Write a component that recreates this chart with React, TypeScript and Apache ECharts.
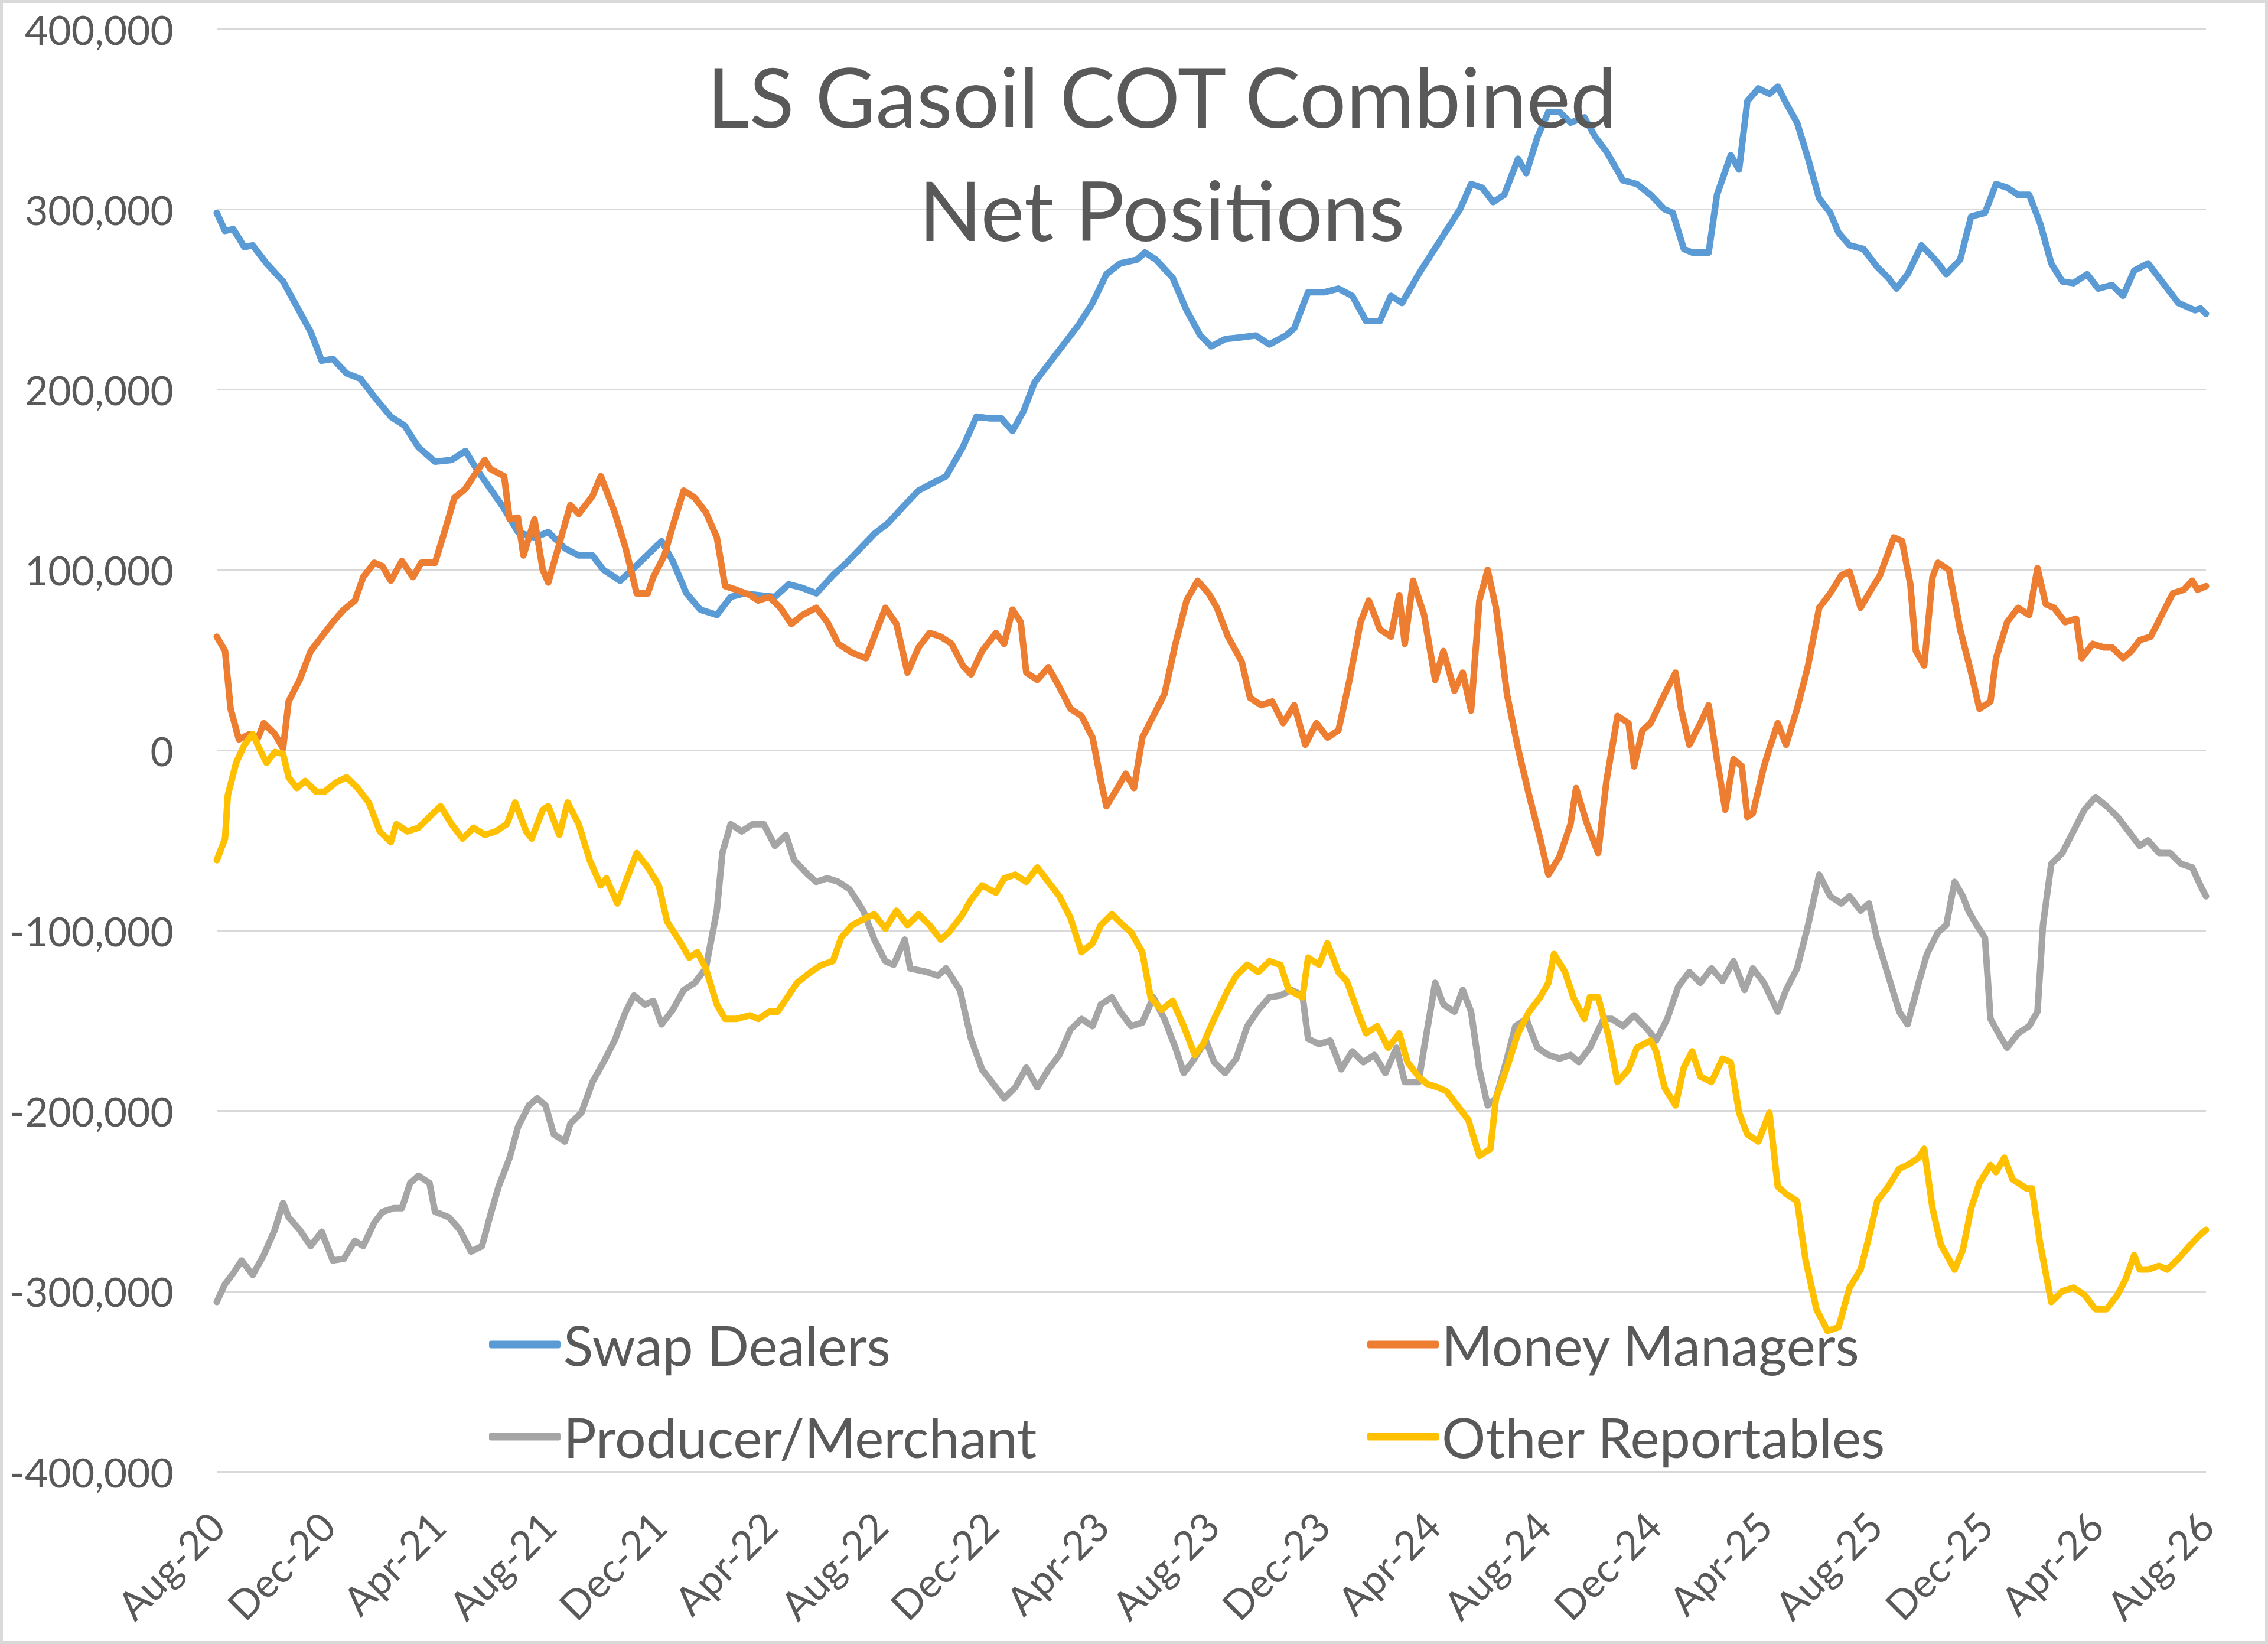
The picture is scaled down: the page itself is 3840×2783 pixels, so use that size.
import { useEffect, useRef } from "react";
import * as echarts from "echarts";

// x = months since Aug-20, y = net position in thousands of contracts
const X_TICK_LABELS = [
  "Aug-20", "Dec-20", "Apr-21", "Aug-21", "Dec-21", "Apr-22", "Aug-22",
  "Dec-22", "Apr-23", "Aug-23", "Dec-23", "Apr-24", "Aug-24", "Dec-24",
  "Apr-25", "Aug-25", "Dec-25", "Apr-26", "Aug-26",
];

const SERIES_NAMES = ["Swap Dealers", "Money Managers", "Producer/Merchant", "Other Reportables"];

const SWAP_DEALERS: [number, number][] = [
  [0, 298], [0.3, 288], [0.6, 289], [1.0, 279], [1.3, 280], [1.8, 270], [2.4, 260], [2.9, 246],
  [3.4, 232], [3.8, 216], [4.2, 217], [4.7, 209], [5.2, 206], [5.7, 196], [6.3, 185], [6.8, 180],
  [7.3, 168], [7.9, 160], [8.5, 161], [9.0, 166], [9.4, 156], [9.9, 145], [10.4, 134], [10.9, 121],
  [11.5, 118], [12.0, 121], [12.6, 112], [13.1, 108], [13.6, 108], [14.0, 100], [14.6, 94], [15.1, 101],
  [15.7, 110], [16.1, 116], [16.5, 105], [17.0, 87], [17.5, 78], [18.1, 75], [18.6, 85], [19.1, 87],
  [19.6, 86], [20.2, 85], [20.7, 92], [21.2, 90], [21.7, 87], [22.3, 97], [22.8, 104], [23.3, 112],
  [23.8, 120], [24.3, 126], [24.9, 136], [25.4, 144], [25.9, 148], [26.4, 152], [27.0, 168], [27.5, 185],
  [28.0, 184], [28.4, 184], [28.8, 177], [29.2, 188], [29.6, 204], [30.1, 214], [30.6, 224], [31.2, 236],
  [31.7, 248], [32.2, 264], [32.7, 270], [33.3, 272], [33.6, 276], [34.0, 272], [34.6, 262], [35.1, 244],
  [35.6, 230], [36.0, 224], [36.5, 228], [37.1, 229], [37.6, 230], [38.1, 225], [38.7, 230], [39.0, 234],
  [39.5, 254], [40.1, 254], [40.6, 256], [41.1, 252], [41.6, 238], [42.1, 238], [42.5, 252], [42.9, 248],
  [43.5, 264], [44.0, 276], [44.5, 288], [45.0, 300], [45.4, 314], [45.8, 312], [46.2, 304], [46.6, 308],
  [47.1, 328], [47.4, 320], [47.8, 340], [48.2, 354], [48.6, 354], [49.0, 348], [49.5, 351], [49.9, 340],
  [50.3, 332], [50.9, 316], [51.4, 314], [51.9, 308], [52.4, 300], [52.7, 298], [53.1, 278], [53.4, 276],
  [54.0, 276], [54.3, 308], [54.8, 330], [55.1, 322], [55.4, 360], [55.8, 367], [56.2, 364], [56.5, 368],
  [56.8, 359], [57.2, 348], [57.6, 328], [58.0, 306], [58.4, 298], [58.7, 287], [59.1, 280], [59.6, 278],
  [60.1, 268], [60.5, 262], [60.8, 256], [61.2, 264], [61.7, 280], [62.2, 272], [62.6, 264], [63.1, 272],
  [63.5, 296], [64.0, 298], [64.4, 314], [64.8, 312], [65.2, 308], [65.6, 308], [66.0, 292], [66.4, 270],
  [66.8, 260], [67.2, 259], [67.7, 264], [68.1, 256], [68.6, 258], [69.0, 252], [69.4, 266], [69.9, 270],
  [70.5, 258], [71.0, 248], [71.6, 244], [71.8, 245], [72.0, 242],
];

const MONEY_MANAGERS: [number, number][] = [
  [0, 63], [0.3, 55], [0.5, 23], [0.8, 6], [1.2, 9], [1.5, 7], [1.7, 15], [2.1, 9], [2.4, 1],
  [2.6, 27], [3.0, 39], [3.4, 55], [3.8, 63], [4.2, 71], [4.6, 78], [5.0, 83], [5.3, 96], [5.7, 104],
  [6.0, 102], [6.3, 94], [6.7, 105], [7.1, 96], [7.4, 104], [7.9, 104], [8.3, 124], [8.6, 140],
  [9.0, 145], [9.3, 152], [9.7, 161], [9.9, 156], [10.4, 152], [10.6, 128], [10.9, 129], [11.1, 108],
  [11.5, 128], [11.8, 100], [12.0, 93], [12.5, 120], [12.8, 136], [13.1, 131], [13.6, 141], [13.9, 152],
  [14.1, 144], [14.4, 132], [14.8, 112], [15.2, 87], [15.6, 87], [15.8, 96], [16.2, 108], [16.5, 124],
  [16.9, 144], [17.3, 140], [17.7, 132], [18.1, 118], [18.4, 91], [18.8, 89], [19.3, 86], [19.6, 83],
  [20.0, 85], [20.4, 79], [20.8, 70], [21.2, 75], [21.7, 79], [22.1, 71], [22.5, 59], [23.0, 54],
  [23.5, 51], [23.8, 63], [24.2, 79], [24.6, 70], [25.0, 43], [25.4, 57], [25.8, 65], [26.2, 63],
  [26.6, 59], [27.0, 47], [27.3, 42], [27.7, 55], [28.2, 65], [28.5, 59], [28.8, 78], [29.1, 71],
  [29.3, 43], [29.7, 39], [30.1, 46], [30.5, 35], [30.9, 23], [31.3, 19], [31.7, 7], [32.0, -17],
  [32.2, -31], [32.6, -21], [32.9, -13], [33.2, -21], [33.5, 7], [33.9, 19], [34.3, 31], [34.7, 59],
  [35.1, 83], [35.5, 94], [35.9, 87], [36.2, 79], [36.6, 63], [37.1, 49], [37.4, 29], [37.8, 25],
  [38.2, 27], [38.6, 15], [39.0, 25], [39.4, 3], [39.8, 15], [40.2, 7], [40.6, 11], [41.0, 39],
  [41.4, 71], [41.7, 83], [42.1, 67], [42.5, 63], [42.8, 86], [43.0, 59], [43.3, 94], [43.7, 75],
  [44.1, 39], [44.4, 55], [44.8, 33], [45.1, 43], [45.4, 22], [45.7, 83], [46.0, 100], [46.3, 79],
  [46.7, 31], [47.1, 1], [47.5, -25], [47.9, -49], [48.2, -69], [48.6, -59], [49.0, -41], [49.2, -21],
  [49.6, -41], [50.0, -57], [50.3, -17], [50.7, 19], [51.1, 15], [51.3, -9], [51.6, 11], [51.9, 15],
  [52.4, 31], [52.8, 43], [53.0, 23], [53.3, 3], [53.7, 15], [54.0, 25], [54.3, -5], [54.6, -33],
  [54.9, -5], [55.2, -9], [55.4, -37], [55.6, -35], [56.0, -9], [56.2, 1], [56.5, 15], [56.8, 3],
  [57.2, 23], [57.6, 47], [58.0, 79], [58.4, 87], [58.8, 97], [59.1, 99], [59.5, 79], [59.8, 87],
  [60.2, 97], [60.7, 118], [61.0, 116], [61.3, 92], [61.5, 55], [61.8, 47], [62.1, 96], [62.3, 104],
  [62.7, 100], [63.1, 67], [63.5, 43], [63.8, 23], [64.2, 27], [64.4, 51], [64.8, 71], [65.2, 79],
  [65.6, 75], [65.9, 101], [66.2, 81], [66.5, 79], [66.9, 71], [67.3, 73], [67.5, 51], [67.9, 59],
  [68.3, 57], [68.6, 57], [69.0, 51], [69.3, 55], [69.6, 61], [70.0, 63], [70.4, 75], [70.8, 87],
  [71.2, 89], [71.5, 94], [71.7, 89], [72.0, 91],
];

const PRODUCER_MERCHANT: [number, number][] = [
  [0, -306], [0.3, -296], [0.6, -290], [0.9, -283], [1.3, -291], [1.7, -280], [2.1, -266], [2.4, -251],
  [2.6, -259], [3.0, -266], [3.4, -275], [3.8, -267], [4.2, -283], [4.6, -282], [5.0, -272], [5.3, -275],
  [5.7, -262], [6.0, -256], [6.4, -254], [6.7, -254], [7.0, -240], [7.3, -236], [7.7, -240], [7.9, -256],
  [8.4, -259], [8.8, -266], [9.2, -278], [9.6, -275], [9.9, -258], [10.2, -242], [10.6, -226], [10.9, -209],
  [11.3, -197], [11.6, -193], [11.9, -197], [12.2, -213], [12.6, -217], [12.8, -207], [13.2, -201], [13.6, -184],
  [14.0, -173], [14.4, -161], [14.8, -145], [15.1, -136], [15.5, -141], [15.8, -139], [16.1, -152], [16.5, -144],
  [16.9, -133], [17.3, -129], [17.7, -121], [18.1, -89], [18.3, -57], [18.6, -41], [19.0, -45], [19.4, -41],
  [19.8, -41], [20.2, -53], [20.6, -47], [20.9, -61], [21.4, -69], [21.7, -73], [22.1, -71], [22.5, -73],
  [22.9, -77], [23.4, -89], [23.8, -105], [24.2, -117], [24.5, -119], [24.9, -105], [25.1, -121], [25.7, -123],
  [26.1, -125], [26.4, -121], [26.9, -133], [27.3, -160], [27.7, -177], [28.1, -185], [28.5, -193], [28.9, -187],
  [29.3, -176], [29.7, -187], [30.1, -177], [30.5, -169], [30.9, -155], [31.3, -149], [31.7, -153], [32.0, -141],
  [32.4, -137], [32.7, -145], [33.1, -153], [33.5, -151], [33.9, -137], [34.3, -149], [34.7, -165], [35.0, -179],
  [35.3, -173], [35.8, -161], [36.1, -173], [36.5, -179], [36.9, -171], [37.3, -153], [37.7, -144], [38.1, -137],
  [38.5, -136], [38.9, -133], [39.3, -136], [39.5, -160], [39.9, -163], [40.3, -161], [40.7, -177], [41.1, -167],
  [41.5, -173], [41.9, -169], [42.3, -179], [42.7, -165], [43.0, -184], [43.5, -184], [43.7, -165], [44.1, -129],
  [44.4, -141], [44.8, -145], [45.1, -133], [45.4, -145], [45.7, -177], [46.0, -197], [46.3, -193], [46.7, -171],
  [47.0, -153], [47.4, -149], [47.8, -165], [48.2, -169], [48.6, -171], [49.0, -169], [49.3, -173], [49.7, -165],
  [50.2, -149], [50.5, -149], [50.9, -153], [51.3, -147], [51.8, -155], [52.1, -161], [52.5, -149], [52.9, -131],
  [53.3, -123], [53.7, -129], [54.1, -121], [54.5, -128], [54.9, -117], [55.3, -133], [55.6, -121], [56.0, -129],
  [56.5, -145], [56.8, -133], [57.2, -121], [57.6, -97], [58.0, -69], [58.4, -81], [58.8, -85], [59.1, -81],
  [59.5, -89], [59.8, -85], [60.1, -105], [60.5, -125], [60.9, -145], [61.2, -152], [61.6, -129], [61.9, -113],
  [62.3, -101], [62.6, -97], [62.9, -73], [63.2, -81], [63.4, -89], [63.7, -97], [64.0, -104], [64.2, -149],
  [64.6, -160], [64.8, -165], [65.2, -157], [65.6, -153], [65.9, -145], [66.1, -97], [66.4, -63], [66.8, -57],
  [67.2, -45], [67.6, -33], [68.0, -26], [68.4, -31], [68.8, -37], [69.2, -45], [69.6, -53], [69.9, -50],
  [70.3, -57], [70.7, -57], [71.1, -63], [71.5, -65], [71.8, -75], [72.0, -81],
];

const OTHER_REPORTABLES: [number, number][] = [
  [0, -61], [0.3, -49], [0.4, -25], [0.7, -7], [1.0, 3], [1.3, 9], [1.6, -1], [1.8, -7], [2.1, -1],
  [2.4, -2], [2.6, -15], [2.9, -21], [3.2, -17], [3.6, -23], [3.9, -23], [4.3, -18], [4.7, -15], [5.1, -21],
  [5.5, -29], [5.9, -45], [6.3, -51], [6.5, -41], [6.9, -45], [7.3, -43], [7.7, -37], [8.1, -31], [8.5, -41],
  [8.9, -49], [9.3, -43], [9.7, -47], [10.1, -45], [10.5, -41], [10.8, -29], [11.2, -45], [11.4, -49],
  [11.8, -33], [12.0, -31], [12.4, -47], [12.7, -29], [13.1, -41], [13.5, -61], [13.9, -75], [14.1, -71],
  [14.5, -85], [14.8, -73], [15.2, -57], [15.6, -65], [16.0, -75], [16.3, -95], [16.8, -107], [17.1, -115],
  [17.4, -112], [17.7, -121], [18.1, -141], [18.4, -149], [18.8, -149], [19.3, -147], [19.6, -149], [20.0, -145],
  [20.3, -145], [20.7, -136], [21.0, -129], [21.5, -123], [21.9, -119], [22.3, -117], [22.6, -104], [23.0, -97],
  [23.5, -93], [23.8, -91], [24.2, -99], [24.6, -89], [25.0, -97], [25.4, -91], [25.8, -97], [26.2, -105],
  [26.5, -101], [27.0, -91], [27.3, -83], [27.7, -75], [28.2, -79], [28.5, -71], [28.9, -69], [29.3, -73],
  [29.7, -65], [30.1, -73], [30.5, -81], [30.9, -93], [31.3, -112], [31.7, -107], [32.0, -97], [32.4, -91],
  [32.8, -97], [33.1, -101], [33.5, -112], [33.8, -137], [34.2, -144], [34.6, -139], [35.0, -153], [35.4, -169],
  [35.7, -163], [36.1, -149], [36.6, -133], [36.9, -125], [37.3, -119], [37.7, -123], [38.1, -117], [38.5, -119],
  [38.8, -133], [39.3, -137], [39.5, -115], [39.9, -119], [40.2, -107], [40.6, -123], [40.9, -128], [41.3, -145],
  [41.6, -157], [42.0, -153], [42.4, -165], [42.8, -157], [43.1, -173], [43.5, -181], [43.8, -185], [44.2, -187],
  [44.5, -189], [44.9, -197], [45.3, -205], [45.7, -225], [46.1, -221], [46.3, -193], [46.7, -176], [47.1, -157],
  [47.5, -145], [47.9, -137], [48.2, -129], [48.4, -113], [48.8, -123], [49.1, -137], [49.5, -149], [49.7, -137],
  [50.0, -137], [50.4, -160], [50.7, -184], [51.1, -177], [51.4, -165], [51.9, -161], [52.1, -167], [52.4, -187],
  [52.8, -197], [53.1, -176], [53.4, -167], [53.7, -181], [54.1, -184], [54.5, -171], [54.8, -173], [55.1, -201],
  [55.4, -213], [55.8, -217], [56.2, -201], [56.5, -242], [56.8, -246], [57.2, -250], [57.5, -282], [57.9, -310],
  [58.3, -322], [58.7, -320], [59.1, -298], [59.5, -288], [59.8, -270], [60.1, -250], [60.5, -242], [60.9, -232],
  [61.2, -230], [61.6, -226], [61.8, -221], [62.1, -254], [62.4, -274], [62.9, -288], [63.2, -277], [63.5, -254],
  [63.8, -240], [64.2, -230], [64.4, -234], [64.7, -226], [65.0, -238], [65.5, -243], [65.7, -243], [66.0, -274],
  [66.4, -306], [66.8, -300], [67.2, -298], [67.6, -302], [68.0, -310], [68.4, -310], [68.8, -302], [69.1, -293],
  [69.4, -280], [69.6, -288], [69.9, -288], [70.3, -286], [70.6, -288], [71.0, -282], [71.4, -275], [71.7, -270],
  [72.0, -266],
];

const SERIES_DATA = [SWAP_DEALERS, MONEY_MANAGERS, PRODUCER_MERCHANT, OTHER_REPORTABLES];
const SERIES_COLORS = ["#5B9BD5", "#ED7D31", "#A5A5A5", "#FFC000"];

const FONT = "Lato, 'Open Sans', sans-serif";
const TEXT_COLOR = "#595959";

const legendBlock = (left: number, names: string[]) => ({
  orient: "vertical",
  left,
  top: 2216,
  icon: "roundRect",
  itemWidth: 121,
  itemHeight: 13,
  itemGap: 46,
  data: names,
  textStyle: { fontFamily: FONT, fontSize: 93, lineHeight: 110, color: TEXT_COLOR },
});

export default function App() {
  const chartRef = useRef<HTMLDivElement>(null);

  useEffect(() => {
    document.body.style.margin = "0";
    if (!chartRef.current) return;
    const chart = echarts.init(chartRef.current, undefined, { renderer: "svg" });

    chart.setOption({
      animation: false,
      backgroundColor: "#FFFFFF",
      grid: { left: 367, right: 105, top: 49, bottom: 292 },
      graphic: [
        {
          type: "rect",
          shape: { x: 2.5, y: 2.5, width: 3835, height: 2778 },
          style: { fill: "none", stroke: "#D9D9D9", lineWidth: 5 },
          silent: true,
        },
        {
          type: "text",
          x: 1967,
          y: 66,
          z: 100,
          style: {
            text: "LS Gasoil COT Combined\nNet Positions",
            fontFamily: FONT,
            fontSize: 140,
            lineHeight: 192,
            fill: TEXT_COLOR,
            align: "center",
            verticalAlign: "top",
          },
        },
      ],
      legend: [
        legendBlock(823, [SERIES_NAMES[0], SERIES_NAMES[2]]),
        legendBlock(2310, [SERIES_NAMES[1], SERIES_NAMES[3]]),
      ],
      xAxis: {
        type: "value",
        min: 0,
        max: 72,
        interval: 4,
        axisLine: { show: false },
        axisTick: { show: false },
        splitLine: { show: false },
        axisLabel: {
          rotate: 45,
          margin: 80,
          fontFamily: FONT,
          fontSize: 68,
          color: TEXT_COLOR,
          showMinLabel: true,
          showMaxLabel: true,
          hideOverlap: false,
          formatter: (v: number) => X_TICK_LABELS[Math.round(v / 4)] ?? "",
        },
      },
      yAxis: {
        type: "value",
        min: -400000,
        max: 400000,
        interval: 100000,
        axisLine: { show: false },
        axisTick: { show: false },
        splitLine: { lineStyle: { color: "#D9D9D9", width: 3 } },
        axisLabel: {
          margin: 73,
          fontFamily: FONT,
          fontSize: 68,
          color: TEXT_COLOR,
          formatter: (v: number) => v.toLocaleString("en-US"),
        },
      },
      series: SERIES_NAMES.map((name, i) => ({
        name,
        type: "line",
        symbol: "none",
        showSymbol: false,
        color: SERIES_COLORS[i],
        itemStyle: { color: SERIES_COLORS[i] },
        lineStyle: { width: 11, color: SERIES_COLORS[i], join: "round", cap: "round" },
        data: SERIES_DATA[i].map(([m, v]) => [m, v * 1000]),
      })),
    });

    return () => chart.dispose();
  }, []);

  return <div ref={chartRef} style={{ width: 3840, height: 2783 }} />;
}
